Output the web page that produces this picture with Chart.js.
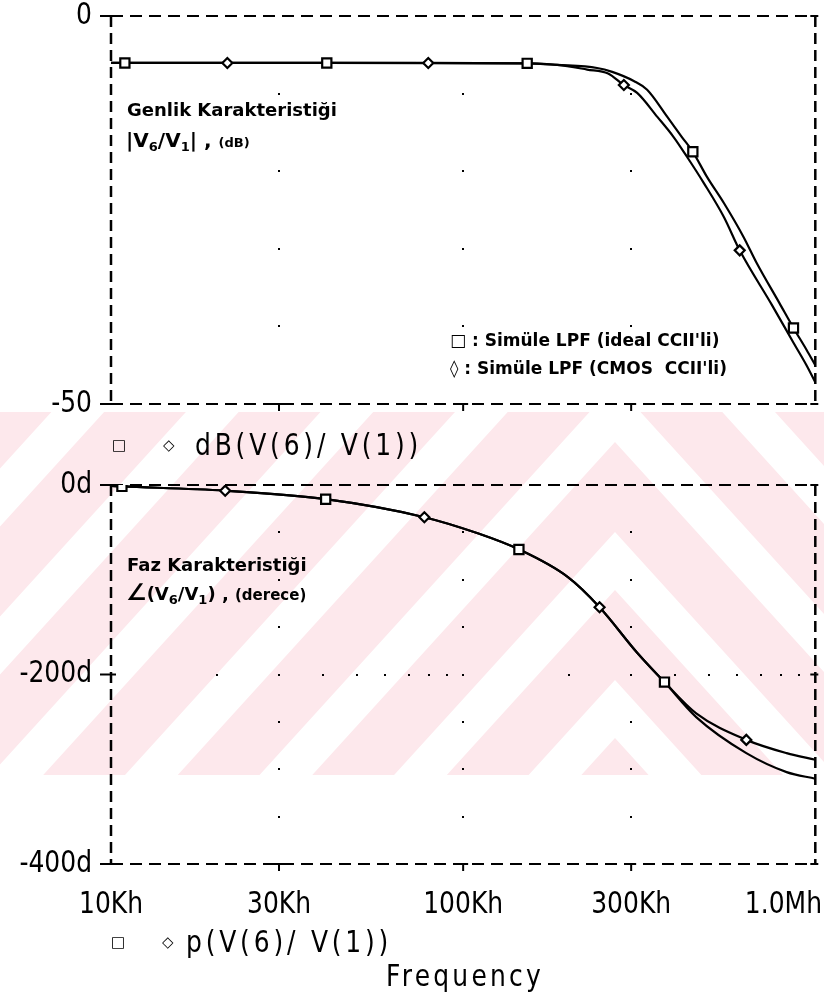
<!DOCTYPE html>
<html lang="tr">
<head>
<meta charset="utf-8">
<title>Simüle LPF - genlik ve faz karakteristiği</title>
<script src="https://cdn.jsdelivr.net/npm/chart.js@4.4.1/dist/chart.umd.min.js"></script>
<style>
  html, body { margin: 0; background: #fff; }
  #page { position: relative; width: 824px; height: 1003px; overflow: hidden; }
  #page canvas { position: absolute; left: 0; }
  .ann { position: absolute; font: bold 18px "DejaVu Sans", sans-serif; line-height: 22px; white-space: nowrap; color: #000; }
  .ann sub { font-size: 13px; vertical-align: -4px; line-height: 0; }
  .ann .sm { font-size: 13px; }
  .ann.leg { font-size: 17px; }
  .ps { position: absolute; font: 25px "DejaVu Sans", sans-serif; line-height: 30px; white-space: nowrap;
        transform: scaleY(1.2); transform-origin: left center; color: #000; letter-spacing: 3.8px; }
  .mk { position: absolute; font: bold 15px "DejaVu Sans", sans-serif; line-height: 16px; }
</style>
</head>
<body>
<div id="page">
  <canvas id="bg" width="824" height="1003" style="top:0"></canvas>
  <canvas id="mag" width="824" height="440" style="top:0"></canvas>
  <canvas id="phase" width="824" height="563" style="top:440px"></canvas>

  <div class="ann" style="left:127px;top:99px">Genlik Karakteristiği</div>
  <div class="ann" style="left:126px;top:129px;font-size:20px">|V<sub>6</sub>/V<sub>1</sub>| , <span class="sm">(dB)</span></div>
  <div class="ann leg" style="left:450px;top:329px">□ : Simüle LPF (ideal CCII'li)</div>
  <div class="ann leg" style="left:450px;top:357px">◊ : Simüle LPF (CMOS&nbsp; CCII'li)</div>

  <span class="mk" style="left:112px;top:437px">□</span>
  <span class="mk" style="left:163px;top:437px">◇</span>
  <div class="ps" style="left:195px;top:430px">dB(V(6)/ V(1))</div>

  <div class="ann" style="left:127px;top:554px">Faz Karakteristiği</div>
  <div class="ann" style="left:126px;top:581px"><span style="font-size:23px">∠</span>(V<sub>6</sub>/V<sub>1</sub>) , <span class="sm" style="font-size:15px">(derece)</span></div>

  <span class="mk" style="left:111px;top:934px">□</span>
  <span class="mk" style="left:162px;top:934px">◇</span>
  <div class="ps" style="left:186px;top:927px">p(V(6)/ V(1))</div>
  <div class="ps" style="left:365px;top:961px;width:200px;text-align:center;letter-spacing:3.2px">Frequency</div>
</div>

<script>
// frekans ekseni (Hz), logaritmik 10k..1M
const freqTicks = [1e4, 3e4, 1e5, 3e5, 1e6];
const freqTickLabels = ['10Kh', '30Kh', '100Kh', '300Kh', '1.0Mh'];
const freqGrid = [3e4, 1e5, 3e5];
const minorFreqs = [2e4, 3e4, 4e4, 5e4, 6e4, 7e4, 8e4, 9e4, 1e5,
                    2e5, 3e5, 4e5, 5e5, 6e5, 7e5, 8e5, 9e5];

// genlik ekseni (dB)
const magTicks = [0, -50];
const magTickLabels = ['0', '-50'];
const magGrid = [-10, -20, -30, -40];

// faz ekseni (derece)
const phaseTicks = [0, -200, -400];
const phaseTickLabels = ['0d', '-200d', '-400d'];
const phaseGrid = [-50, -100, -150, -250, -300, -350];

// dB(V(6)/V(1)) - ideal CCII'li
const magFreqIdeal = [10e3, 10.95e3, 41e3, 152e3, 185e3, 240e3, 265e3, 306e3, 333e3, 380e3,
                      418e3, 449e3, 492e3, 550e3, 626e3, 681e3, 791e3, 867e3, 944e3, 1e6];
const magIdeal = [-6.05, -6.05, -6.05, -6.1, -6.3, -6.7, -7.2, -8.4, -9.5, -13.0,
                  -15.6, -17.5, -20.7, -24.1, -28.5, -31.8, -37.0, -40.2, -43.0, -45.0];
const magIdealMarks = [1, 2, 3, 11, 17];

// dB(V(6)/V(1)) - CMOS CCII'li
const magFreqCmos = [10e3, 21.4e3, 79.6e3, 152e3, 185e3, 225e3, 258e3, 286e3, 312e3, 356e3,
                     396e3, 433e3, 482e3, 550e3, 610e3, 752e3, 867e3, 944e3, 1e6];
const magCmos = [-6.05, -6.05, -6.05, -6.1, -6.3, -6.9, -7.4, -8.9, -9.9, -13.0,
                 -15.6, -18.2, -21.5, -25.9, -30.2, -37.2, -42.1, -45.0, -47.2];
const magCmosMarks = [1, 2, 7, 14];

// p(V(6)/V(1)) - iki devre icin ortak frekans noktalari
const phaseFreq = [10e3, 10.74e3, 21.1e3, 40.7e3, 77.6e3, 110e3, 144e3, 198e3, 244e3, 312e3,
                   373e3, 459e3, 637e3, 829e3, 1e6];
const phaseIdeal = [-1, -1.5, -6, -15, -34, -51, -68, -97, -129, -177,
                    -208, -245, -283, -303, -310];
const phaseIdealMarks = [1, 3, 6, 10];
const phaseCmos = [-1, -1.5, -6, -15, -34, -51, -68, -97, -129, -177,
                   -208, -241, -269, -283, -290];
const phaseCmosMarks = [2, 4, 8, 12];

const pts = (xs, ys) => xs.map((x, i) => ({ x, y: ys[i] }));
const pick = (xs, ys, idx) => idx.map(i => ({ x: xs[i], y: ys[i] }));

// arka plandaki pembe filigran
(function drawWatermark() {
  const g = document.getElementById('bg').getContext('2d');
  g.fillStyle = '#fff';
  g.fillRect(0, 0, 824, 1003);
  g.save();
  g.beginPath();
  g.rect(0, 412, 824, 363);
  g.clip();
  g.fillStyle = '#fde8ec';
  g.fillRect(0, 412, 824, 363);
  g.fillStyle = '#fff';
  const ax = 615, k = 1.1, period = 148, w = 58, far = 1000;
  for (let ay = 532 - period * 8; ay < 900; ay += period) {
    g.beginPath();
    g.moveTo(ax - far, ay + far * k);
    g.lineTo(ax, ay);
    g.lineTo(ax + far, ay + far * k);
    g.lineTo(ax + far, ay + w + far * k);
    g.lineTo(ax, ay + w);
    g.lineTo(ax - far, ay + w + far * k);
    g.closePath();
    g.fill();
  }
  g.restore();
})();

function seg(ctx, x1, y1, x2, y2) {
  ctx.beginPath();
  ctx.moveTo(x1, y1);
  ctx.lineTo(x2, y2);
  ctx.stroke();
}

function tallText(ctx, s, x, y, align) {
  ctx.save();
  ctx.translate(x, y);
  ctx.scale(1, 1.2);
  ctx.textAlign = align;
  ctx.textBaseline = 'middle';
  ctx.fillText(s, 0, 0);
  ctx.restore();
}

// PSpice tarzi kesikli cerceve, tik isaretleri, nokta izgara ve eksen yazilari
const pspiceFrame = {
  id: 'pspiceFrame',
  beforeDatasetsDraw(chart, args, o) {
    const { ctx, chartArea: a } = chart;
    const x = chart.scales.x, y = chart.scales.y;
    ctx.save();
    ctx.strokeStyle = '#000';
    ctx.fillStyle = '#000';
    ctx.setLineDash([12, 7]);
    ctx.lineWidth = 2;
    seg(ctx, a.left, a.top, a.right, a.top);
    seg(ctx, a.left, a.bottom, a.right, a.bottom);
    ctx.setLineDash([11, 6]);
    ctx.lineWidth = 2.5;
    seg(ctx, a.left, a.top, a.left, a.bottom);
    seg(ctx, a.right, a.top, a.right, a.bottom);
    ctx.setLineDash([]);
    ctx.lineWidth = 2;
    o.yTicks.forEach(v => {
      const py = y.getPixelForValue(v);
      seg(ctx, a.left - 11, py, a.left + 5, py);
      seg(ctx, a.right - 5, py, a.right + 3, py);
    });
    freqGrid.forEach(f => {
      const px = x.getPixelForValue(f);
      seg(ctx, px - 5, a.bottom, px + 5, a.bottom);
      seg(ctx, px, a.bottom, px, a.bottom + 7);
    });
    const dot = (px, py) => ctx.fillRect(Math.round(px) - 1, Math.round(py) - 1, 2, 2);
    freqGrid.forEach(f => o.yGrid.forEach(v => dot(x.getPixelForValue(f), y.getPixelForValue(v))));
    if (o.minorRow != null) {
      minorFreqs.forEach(f => dot(x.getPixelForValue(f), y.getPixelForValue(o.minorRow)));
    }
    ctx.restore();
  },
  afterDraw(chart, args, o) {
    const { ctx, chartArea: a } = chart;
    const x = chart.scales.x, y = chart.scales.y;
    ctx.save();
    ctx.fillStyle = '#000';
    ctx.font = '25px "DejaVu Sans"';
    o.yTicks.forEach((v, i) => tallText(ctx, o.yLabels[i], a.left - 19, y.getPixelForValue(v), 'right'));
    if (o.xLabels) {
      freqTicks.forEach((f, i) => {
        const s = o.xLabels[i];
        let px = x.getPixelForValue(f);
        let align = 'center';
        const w = ctx.measureText(s).width;
        if (px + w / 2 > chart.width - 2) { px = chart.width - 2; align = 'right'; }
        tallText(ctx, s, px, a.bottom + 41, align);
      });
    }
    ctx.restore();
  }
};

function traceSets(fi, vi, mi, fc, vc, mc) {
  const line = { borderColor: '#000', borderWidth: 2.2, pointRadius: 0,
                 cubicInterpolationMode: 'monotone', fill: false, order: 2 };
  const mark = { showLine: false, pointBackgroundColor: '#fff', pointBorderColor: '#000',
                 pointBorderWidth: 2.2, order: 1 };
  return [
    { ...line, label: 'ideal', data: pts(fi, vi) },
    { ...line, label: 'CMOS', data: pts(fc, vc) },
    { ...mark, label: 'ideal □', data: pick(fi, vi, mi), pointStyle: 'rect', pointRadius: 6.5 },
    { ...mark, label: 'CMOS ◊', data: pick(fc, vc, mc), pointStyle: 'rectRot', pointRadius: 5 },
  ];
}

function makeChart(id, datasets, yMin, yMax, pad, frameOpts) {
  return new Chart(document.getElementById(id), {
    type: 'line',
    data: { datasets },
    options: {
      responsive: false, animation: false, events: [],
      layout: { padding: pad },
      plugins: { legend: { display: false }, tooltip: { enabled: false }, pspiceFrame: frameOpts },
      scales: {
        x: { type: 'logarithmic', min: 1e4, max: 1e6, display: false },
        y: { min: yMin, max: yMax, display: false },
      },
    },
    plugins: [pspiceFrame],
  });
}

makeChart('mag',
  traceSets(magFreqIdeal, magIdeal, magIdealMarks, magFreqCmos, magCmos, magCmosMarks),
  -50, 0, { left: 111, right: 5, top: 16, bottom: 36 },
  { yTicks: magTicks, yLabels: magTickLabels, yGrid: magGrid });

makeChart('phase',
  traceSets(phaseFreq, phaseIdeal, phaseIdealMarks, phaseFreq, phaseCmos, phaseCmosMarks),
  -400, 0, { left: 111, right: 5, top: 45, bottom: 139 },
  { yTicks: phaseTicks, yLabels: phaseTickLabels, yGrid: phaseGrid, minorRow: -200, xLabels: freqTickLabels });
</script>
</body>
</html>
